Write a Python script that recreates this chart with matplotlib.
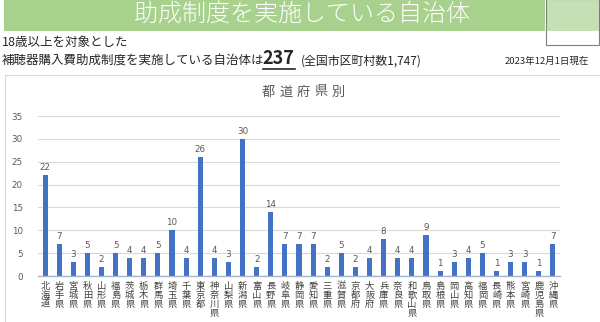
import matplotlib
matplotlib.use("Agg")
import matplotlib.pyplot as plt
from matplotlib.patches import Rectangle
from matplotlib.lines import Line2D
import numpy as np

plt.rcParams['font.family'] = ['Noto Sans CJK JP', 'DejaVu Sans']

# data
prefectures = ['北海道', '岩手県', '宮城県', '秋田県', '山形県', '福島県', '茨城県', '栃木県',
               '群馬県', '埼玉県', '千葉県', '東京都', '神奈川県', '山梨県', '新潟県', '富山県',
               '長野県', '岐阜県', '静岡県', '愛知県', '三重県', '滋賀県', '京都府', '大阪府',
               '兵庫県', '奈良県', '和歌山県', '鳥取県', '島根県', '岡山県', '高知県', '福岡県',
               '長崎県', '熊本県', '宮崎県', '鹿児島県', '沖縄県']
counts = [22, 7, 3, 5, 2, 5, 4, 4, 5, 10, 4, 26, 4, 3, 30, 2, 14, 7, 7, 7, 2, 5, 2, 4,
          8, 4, 4, 9, 1, 3, 4, 5, 1, 3, 3, 1, 7]
y_ticks = [0, 5, 10, 15, 20, 25, 30, 35]
chart_title = '都道府県別'

W, H = 600, 322
fig = plt.figure(figsize=(W / 100, H / 100), dpi=100)
fig.patch.set_facecolor('white')

def px(x, y):
    # pixel coords (top-left origin) -> figure fraction
    return x / W, 1 - y / H

# green banner and side box
x0, y0 = px(4, 31)
fig.add_artist(Rectangle((x0, y0), 541 / W, 31 / H, transform=fig.transFigure,
                         facecolor='#A9D18E', edgecolor='none'))
bx, by = px(546, 45)
fig.add_artist(Rectangle((bx, px(0, 31)[1]), 53 / W, 31 / H, transform=fig.transFigure,
                         facecolor='#C5E0B4', edgecolor='none'))
fig.add_artist(Rectangle((bx, by), 53 / W, 46 / H, transform=fig.transFigure,
                         facecolor='none', edgecolor='#7F7F7F', linewidth=0.8))
fig.text(*px(302, 14), '助成制度を実施している自治体', color='white', fontsize=17.3,
         fontweight='light', ha='center', va='center')

# header texts
fig.text(*px(2, 42), '18歳以上を対象とした', fontsize=9, color='#262626', va='center')
fig.text(*px(2, 61), '補聴器購入費助成制度を実施している自治体は', fontsize=9,
         color='#262626', va='center')
fig.text(*px(262, 58), '237', fontsize=13, fontweight='bold', color='#262626', va='center')
fig.add_artist(Line2D([263 / W, 295 / W], [1 - 68.5 / H] * 2, transform=fig.transFigure,
                      color='#262626', linewidth=1.2))
fig.text(*px(301, 61), '(全国市区町村数1,747)', fontsize=8.6, color='#262626', va='center')
fig.text(*px(505, 61), '2023年12月1日現在', fontsize=6.8, color='#262626', va='center')

# chart frame
fig.add_artist(Line2D([5 / W, 5 / W, 1], [0, 1 - 75 / H, 1 - 75 / H],
                      transform=fig.transFigure, color='#D9D9D9', linewidth=0.8))

# letter-spaced chart title like the Excel original
pitch = 17.5
start = 303.5 - pitch * (len(chart_title) - 1) / 2
for i, ch in enumerate(chart_title):
    fig.text(*px(start + i * pitch, 92), ch, fontsize=9.5, color='#595959',
             ha='center', va='center')

ax = fig.add_axes([38 / W, 1 - 276 / H, 522 / W, 160 / H])
x = np.arange(len(prefectures))
ax.bar(x, counts, width=0.36, color='#4472C4', zorder=3)
for xi, v in zip(x, counts):
    ax.text(xi, v + 0.7, str(v), ha='center', va='bottom', fontsize=6.3, color='#595959',
            family='DejaVu Sans')

ax.set_xlim(-0.5, len(prefectures) - 0.5)
ax.set_ylim(0, 35)
ax.set_yticks(y_ticks)
ax.set_yticklabels([str(t) for t in y_ticks], fontsize=6.3, color='#595959', family='DejaVu Sans')
ax.set_xticks(x)
ax.set_xticklabels(['\n'.join(p) for p in prefectures], fontsize=6.7, color='#404040',
                   linespacing=1.0, va='top')
ax.tick_params(axis='both', length=0)
ax.tick_params(axis='x', pad=4)
ax.tick_params(axis='y', pad=11)
ax.grid(axis='y', color='#D9D9D9', linewidth=0.8, zorder=0)
for s in ['top', 'right', 'left']:
    ax.spines[s].set_visible(False)
ax.spines['bottom'].set_color('#A6B4CF')
ax.spines['bottom'].set_linewidth(1.0)
ax.spines['bottom'].set_zorder(4)

fig.savefig('out.png', dpi=100)
